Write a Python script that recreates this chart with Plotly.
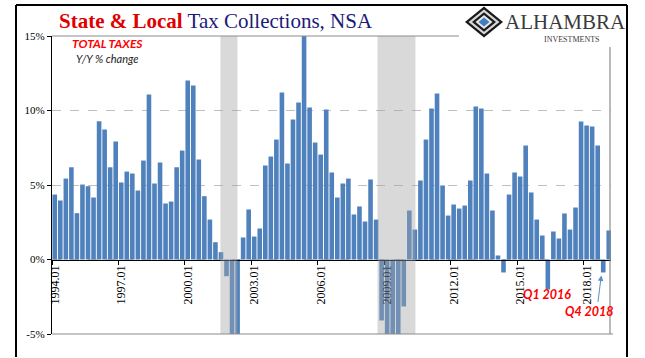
import plotly.graph_objects as go

# ---------------- data ----------------
quarters = [f"{y}.{m:02d}" for y in range(1994, 2020) for m in (1, 4, 7, 10)][:101]

yoy_change = [
    4.36, 3.96, 5.43, 6.19,    # 1994
    3.11, 5.03, 4.92, 4.16,    # 1995
    9.28, 8.72, 6.19, 7.92,    # 1996
    5.17, 5.90, 5.77, 4.63,    # 1997
    6.64, 11.07, 5.10, 6.51,   # 1998
    3.76, 3.89, 6.19, 7.31,    # 1999
    12.01, 11.68, 6.71, 4.25,  # 2000
    2.68, 1.16, 0.49, -1.12,   # 2001
    -6.5, -6.0, 1.48, 3.36,    # 2002
    1.54, 2.08, 6.31, 6.91,    # 2003
    8.05, 11.20, 6.44, 9.39,   # 2004
    10.53, 15.00, 10.20, 7.85, # 2005
    7.04, 10.06, 5.84, 4.16,   # 2006
    5.10, 5.43, 3.02, 3.56,    # 2007
    2.55, 5.37, 2.68, -4.09,   # 2008
    -7.0, -6.5, -5.5, -3.15,   # 2009
    3.29, 2.01, 5.30, 8.05,    # 2010
    10.13, 11.14, 4.97, 2.95,  # 2011
    3.69, 3.42, 3.62, 5.30,    # 2012
    10.27, 10.13, 5.77, 3.29,  # 2013
    0.27, -0.87, 4.36, 5.84,   # 2014
    5.57, 7.65, 4.50, 2.68,    # 2015
    1.61, -2.01, 1.88, 1.41,   # 2016
    3.09, 2.01, 3.49, 9.26,    # 2017
    8.99, 8.92, 7.65, -0.87,   # 2018
    1.95,                      # 2019
]

tick_labels = ["1994.01", "1997.01", "2000.01", "2003.01", "2006.01",
               "2009.01", "2012.01", "2015.01", "2018.01"]
y_ticks = [-5, 0, 5, 10, 15]
y_tick_labels = ["-5%", "0%", "5%", "10%", "15%"]

# recession shading, in decimal years
recessions = [(2001.60, 2002.37), (2008.69, 2010.40)]

# ---------------- helpers ----------------
W, H = 645, 358
ML, MR, MT, MB = 52, 34, 36, 24
PW, PH = W - ML - MR, H - MT - MB


def px(x):
    return (x - ML) / PW


def py(y):
    return (H - MB - y) / PH


def year_to_x(yr):
    return (yr - 1994.0) * 4 - 0.5


xs = list(range(len(yoy_change)))
tickvals = [quarters.index(t) - 0.5 for t in tick_labels]

fig = go.Figure()
fig.add_trace(go.Bar(
    x=xs, y=yoy_change,
    marker=dict(color="#4F81BD", line=dict(width=0)),
    hoverinfo="skip",
))

shapes = []
for a, b in recessions:
    shapes.append(dict(type="rect", xref="x", yref="paper",
                       x0=year_to_x(a), x1=year_to_x(b), y0=0, y1=1,
                       fillcolor="rgba(165,165,165,0.42)", line=dict(width=0),
                       layer="above"))

# white area behind logo
shapes.append(dict(type="rect", xref="paper", yref="paper",
                   x0=px(460), x1=px(624), y0=py(38), y1=py(8),
                   fillcolor="white", line=dict(width=0), layer="above"))

# plot borders (gray)
gray = "#8C8C8C"
shapes += [
    dict(type="line", xref="paper", yref="paper", x0=px(52), x1=px(459),
         y0=1, y1=1, line=dict(color=gray, width=1.2), layer="above"),
    dict(type="line", xref="paper", yref="paper", x0=px(610), x1=px(610),
         y0=0, y1=py(47), line=dict(color=gray, width=1.2), layer="above"),
    dict(type="line", xref="paper", yref="paper", x0=px(52), x1=px(613),
         y0=0, y1=0, line=dict(color=gray, width=1.2), layer="above"),
]


def diamond(cx, cy, hw, hh, color):
    path = (f"M {px(cx - hw)} {py(cy)} L {px(cx)} {py(cy - hh)} "
            f"L {px(cx + hw)} {py(cy)} L {px(cx)} {py(cy + hh)} Z")
    return dict(type="path", xref="paper", yref="paper", path=path,
                fillcolor=color, line=dict(width=0), layer="above")


cx, cy = 484, 22
shapes += [
    diamond(cx, cy, 19, 15.5, "#1a1a1a"),
    diamond(cx, cy, 15.5, 12.5, "#d8d8d8"),
    diamond(cx, cy, 12, 9.7, "#1a1a1a"),
    diamond(cx, cy, 8.5, 6.9, "#e8e8e8"),
    diamond(cx, cy, 5.5, 4.5, "#3C7FC8"),
]

# outer frame (black): four separate lines, drawn last
frame = dict(color="black", width=2)
shapes += [
    dict(type="line", xref="paper", yref="paper", x0=px(16), x1=px(16),
         y0=py(5), y1=py(357), line=frame, layer="above"),
    dict(type="line", xref="paper", yref="paper", x0=px(16), x1=px(627),
         y0=py(5), y1=py(5), line=frame, layer="above"),
    dict(type="line", xref="paper", yref="paper", x0=px(627), x1=px(627),
         y0=py(5), y1=py(357), line=frame, layer="above"),
]

annotations = [
    dict(xref="paper", yref="paper", x=px(57), y=py(21), xanchor="left",
         yanchor="middle", showarrow=False,
         text="<span style='color:#E00000'><b>State &amp; Local</b></span>"
              "<span style='color:#1B1B78'> Tax Collections, NSA</span>",
         font=dict(family="Liberation Serif", size=21)),
    dict(xref="paper", yref="paper", x=px(503), y=py(22), xanchor="left",
         yanchor="middle", showarrow=False, text="ALHAMBRA",
         font=dict(family="Liberation Serif", size=21, color="#3a3a3a")),
    dict(xref="paper", yref="paper", x=px(572), y=py(40), xanchor="center",
         yanchor="middle", showarrow=False, text="INVESTMENTS",
         font=dict(family="Liberation Serif", size=8, color="#3a3a3a")),
    dict(xref="paper", yref="paper", x=px(107), y=py(43), xanchor="center",
         yanchor="middle", showarrow=False, text="<b><i>TOTAL TAXES</i></b>",
         font=dict(family="Lato", size=12, color="#FF0000")),
    dict(xref="paper", yref="paper", x=px(107), y=py(58), xanchor="center",
         yanchor="middle", showarrow=False, text="<i>Y/Y % change</i>",
         font=dict(family="Lato", size=11, color="#222222")),
    dict(xref="paper", yref="paper", x=px(547), y=py(294), xanchor="center",
         yanchor="middle", showarrow=False, text="<b><i>Q1 2016</i></b>",
         font=dict(family="Lato", size=12.5, color="#FF0000")),
    dict(xref="paper", yref="paper", x=px(589), y=py(311), xanchor="center",
         yanchor="middle", showarrow=False, text="<b><i>Q4 2018</i></b>",
         font=dict(family="Lato", size=12.5, color="#FF0000")),
    dict(xref="x", yref="y", x=98.65, y=-1.07, ax=-3.5, ay=28,
         axref="pixel", ayref="pixel", text="", showarrow=True,
         arrowhead=2, arrowsize=1.1, arrowwidth=1, arrowcolor="#5B8BC9"),
]

fig.update_layout(
    width=W, height=H,
    margin=dict(l=ML, r=MR, t=MT, b=MB, autoexpand=False),
    paper_bgcolor="white", plot_bgcolor="rgba(0,0,0,0)",
    showlegend=False, bargap=0.17,
    shapes=shapes, annotations=annotations,
    xaxis=dict(
        range=[-0.5, -0.5 + PW / 5.54],
        anchor="free", position=0.25, automargin=False,
        showline=True, linecolor="black", linewidth=1.3,
        ticks="outside", ticklen=4, tickcolor="black",
        tickvals=tickvals, ticktext=tick_labels, tickangle=-90,
        ticklabelshift=3, ticklabelstandoff=-4,
        tickfont=dict(family="Liberation Serif", size=12, color="black"),
        showgrid=False, zeroline=False, fixedrange=True,
    ),
    yaxis=dict(
        range=[-5, 15], tickvals=y_ticks, ticktext=y_tick_labels,
        automargin=False,
        showline=True, linecolor="black", linewidth=1.3,
        ticks="outside", ticklen=4, tickcolor="black",
        tickfont=dict(family="Liberation Serif", size=11, color="black"),
        showgrid=True, gridcolor="#BFBFBF", griddash="dash", gridwidth=1,
        zeroline=False, fixedrange=True,
    ),
)

fig.write_html("out.html", config={"displayModeBar": False},
               post_script="document.body.style.margin='0px';")
